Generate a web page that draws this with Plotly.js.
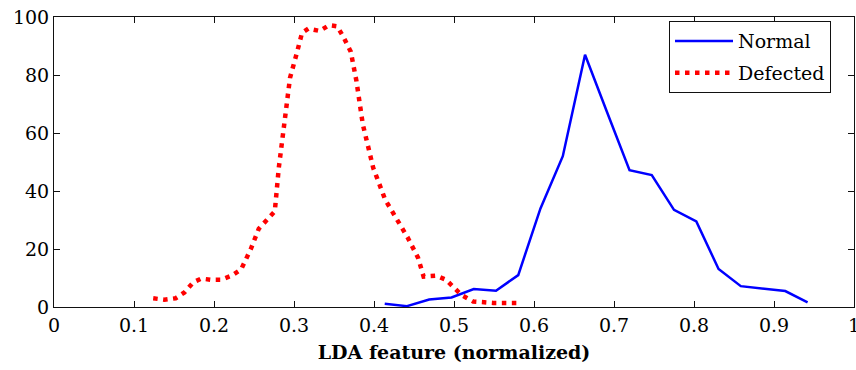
<!DOCTYPE html>
<html>
<head>
<meta charset="utf-8">
<script src="https://cdn.plot.ly/plotly-3.0.1.min.js"></script>
<style>html,body{margin:0;padding:0;background:#fff;}#chart{width:856px;height:370px;}</style>
</head>
<body>
<div id="chart"></div>
<script>
// Normal (blue solid)
const normalX = [0.4134,0.4412,0.469,0.4969,0.5247,0.5525,0.5803,0.6081,0.636,0.6638,0.6916,0.7194,0.7472,0.775,0.8029,0.8307,0.8585,0.8863,0.9141,0.942];
const normalY = [1.1,0.3,2.6,3.3,6.2,5.6,11,34,52,87,67,47.2,45.5,33.5,29.5,13.1,7.2,6.4,5.5,1.6];
// Defected (red dotted)
const defectX = [0.124,0.138,0.152,0.163,0.174,0.184,0.196,0.209,0.222,0.234,0.246,0.256,0.266,0.276,0.281,0.288,0.295,0.303,0.310,0.318,0.332,0.344,0.354,0.362,0.371,0.378,0.386,0.399,0.414,0.428,0.442,0.455,0.462,0.478,0.490,0.509,0.524,0.549,0.578];
const defectY = [3,2.5,3,5,8.5,9.8,9.4,9.4,10.8,13,20,27,30,33,48,63,79,87,94.5,96,95.2,97.2,96.8,93,88,78,63,48,37,30.5,24,17,10.5,10.8,9.4,4.2,1.9,1.4,1.4];
const seriesNames = ["Normal","Defected"];
const xTicks = [0,0.1,0.2,0.3,0.4,0.5,0.6,0.7,0.8,0.9,1];
const xTickText = ["0","0.1","0.2","0.3","0.4","0.5","0.6","0.7","0.8","0.9","1"];
const yTicks = [0,20,40,60,80,100];
const xTitle = "LDA feature (normalized)";

const FONT = "DejaVu Serif";
const traces = [
  {x: normalX, y: normalY, name: seriesNames[0], type: "scatter", mode: "lines",
   line: {color: "#0000ff", width: 2.5}, legendgroup: "a"},
  {x: defectX, y: defectY, name: seriesNames[1], type: "scatter", mode: "lines",
   line: {color: "#ff0000", width: 4.5, dash: "4.5px,5.5px"}, legendgroup: "b"}
];
const axisCommon = {
  showgrid: false, zeroline: false, showline: true, linecolor: "#111", linewidth: 1,
  mirror: "ticks", ticks: "inside", ticklen: 6, tickcolor: "#111", tickwidth: 1,
  tickfont: {family: FONT, size: 19, color: "#000"}, ticklabeloverflow: "allow"
};
const layout = {
  width: 856, height: 370,
  margin: {l: 54, r: 2, t: 17, b: 63, pad: 0},
  paper_bgcolor: "#fff", plot_bgcolor: "#fff",
  showlegend: true,
  xaxis: Object.assign({}, axisCommon, {
    range: [0, 1], tickvals: xTicks, ticktext: xTickText, ticklabelstandoff: 1,
    title: {text: xTitle, font: {family: FONT, size: 19, color: "#000", weight: "bold"}, standoff: 10}
  }),
  yaxis: Object.assign({}, axisCommon, {
    range: [0, 100], tickvals: yTicks, ticklabelstandoff: 0
  }),
  legend: {
    x: (669-54)/800, xref: "paper", xanchor: "left",
    y: (307.3-21.5)/290, yanchor: "top",
    bgcolor: "#fff", bordercolor: "#111", borderwidth: 1,
    font: {family: FONT, size: 19, color: "#000"},
    itemwidth: 58, tracegroupgap: 4, traceorder: "grouped"
  }
};
Plotly.newPlot("chart", traces, layout, {displayModeBar: false, staticPlot: true});
</script>
</body>
</html>
